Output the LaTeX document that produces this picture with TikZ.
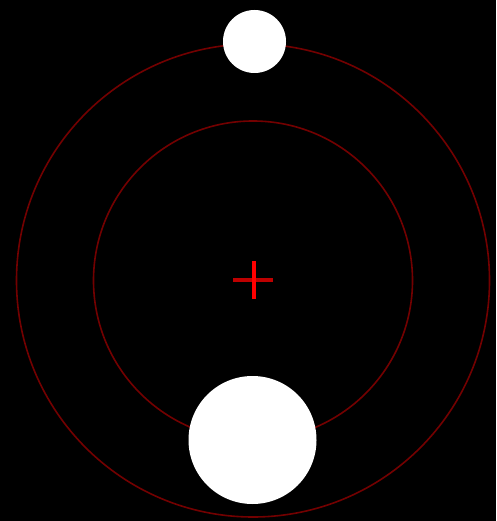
\documentclass[tikz,border=0pt]{standalone}
\begin{document}
\begin{tikzpicture}[x=1pt,y=-1pt,
  orbit/.style={draw=orbitred,line width=1.6pt},
  body/.style={circle,fill=white,draw=none,inner sep=0pt,minimum size=#1},
]
\definecolor{orbitred}{RGB}{115,0,0}
\definecolor{crossdark}{RGB}{190,0,0}
\fill[black] (0,0) rectangle (496,521);
\useasboundingbox (0,0) rectangle (496,521);
\coordinate (c) at (253,280.5);
\draw[orbit] (c) circle[radius=236.5];
\draw[orbit] (c) circle[radius=159.5];
\node[body=63pt] (small) at (254.5,41.5) {};
\node[body=128pt] (large) at (252.5,440) {};
\coordinate (hl) at (233,280);
\coordinate (hr) at (273,280);
\coordinate (vt) at (254,261);
\coordinate (vb) at (254,299);
\draw[crossdark,line width=4pt] (hl) -- (hr);
\draw[red,line width=4pt] (vt) -- (vb);
\end{tikzpicture}
\end{document}
